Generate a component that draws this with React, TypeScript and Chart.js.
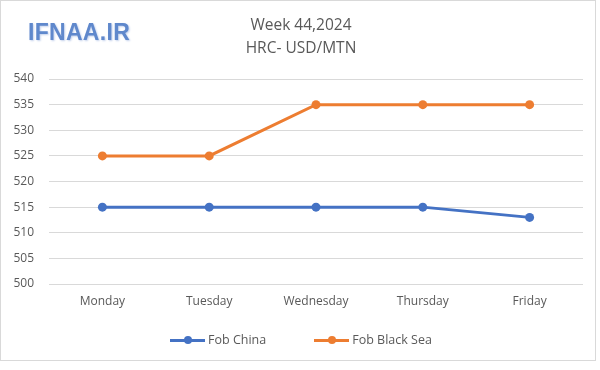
import React, { useEffect, useRef } from "react";
import { Chart, registerables } from "chart.js";

Chart.register(...registerables);

const days = ["Monday", "Tuesday", "Wednesday", "Thursday", "Friday"];
const fobChina = [515, 515, 515, 515, 513];
const fobBlackSea = [525, 525, 535, 535, 535];
const seriesNames = ["Fob China", "Fob Black Sea"];
const seriesColors = ["#4472C4", "#ED7D31"];
const titleLines = ["Week 44,2024", "HRC- USD/MTN"];
const logoText = "IFNAA.IR";
const yMin = 500;
const yMax = 540;
const yStep = 5;

const FONT = "'Open Sans', 'Noto Sans', sans-serif";

export default function App() {
  const ref = useRef<HTMLCanvasElement | null>(null);

  useEffect(() => {
    document.body.style.margin = "0";
    const ctx = ref.current!;
    const chart = new Chart(ctx, {
      type: "line",
      data: {
        labels: days,
        datasets: [fobChina, fobBlackSea].map((d, i) => ({
          label: seriesNames[i],
          data: d,
          borderColor: seriesColors[i],
          backgroundColor: seriesColors[i],
          borderWidth: 3,
          pointRadius: 4.5,
          pointHoverRadius: 4.5,
          pointBorderWidth: 0,
          tension: 0,
        })),
      },
      options: {
        animation: false,
        responsive: false,
        maintainAspectRatio: false,
        layout: { padding: { top: 78, right: 13, bottom: 50, left: 0 } },
        plugins: {
          legend: { display: false },
          title: { display: false },
          tooltip: { enabled: false },
        },
        scales: {
          x: {
            offset: true,
            grid: { display: false, drawTicks: false },
            border: { display: false },
            ticks: {
              color: "#595959",
              font: { family: FONT, size: 12 },
              padding: 10,
              maxRotation: 0,
            },
            afterFit: (s: any) => {
              s.height = 37;
            },
          },
          y: {
            min: yMin,
            max: yMax,
            grid: { color: "#d9d9d9", lineWidth: 1, drawTicks: false },
            border: { display: false },
            ticks: {
              stepSize: yStep,
              color: "#595959",
              font: { family: FONT, size: 12 },
              padding: 15,
            },
            afterFit: (s: any) => {
              s.width = 48;
            },
          },
        },
      },
    });
    return () => chart.destroy();
  }, []);

  return (
    <div
      style={{
        position: "relative",
        width: 596,
        height: 361,
        border: "1px solid #d9d9d9",
        boxSizing: "border-box",
        background: "#fff",
        fontFamily: FONT,
        overflow: "hidden",
      }}
    >
      <canvas
        ref={ref}
        width={595}
        height={370}
        style={{ position: "absolute", left: 0, top: 0 }}
      />
      <div
        style={{
          position: "absolute",
          left: 27,
          top: 18,
          fontFamily: "'Liberation Sans', Arial, sans-serif",
          fontWeight: "bold",
          fontSize: 23,
          color: "#5f88cc",
          textShadow: "1px 1px 2px #c3d1ec",
          letterSpacing: 0.3,
        }}
      >
        {logoText}
      </div>
      <div
        style={{
          position: "absolute",
          left: 0,
          width: 600,
          top: 12,
          textAlign: "center",
          color: "#595959",
          fontSize: 15.5,
          lineHeight: "23px",
        }}
      >
        {titleLines.map((t, i) => (
          <div key={i}>{t}</div>
        ))}
      </div>
      <div
        style={{
          position: "absolute",
          left: 0,
          width: 600,
          top: 329,
          display: "flex",
          justifyContent: "center",
          gap: 48,
          color: "#595959",
          fontSize: 12.5,
          lineHeight: "20px",
        }}
      >
        {seriesNames.map((n, i) => (
          <div key={i} style={{ display: "flex", alignItems: "center" }}>
            <div style={{ position: "relative", width: 35, height: 10, marginRight: 3 }}>
              <div
                style={{
                  position: "absolute",
                  left: 0,
                  right: 0,
                  top: 3.5,
                  height: 3,
                  background: seriesColors[i],
                }}
              />
              <div
                style={{
                  position: "absolute",
                  left: 13.5,
                  top: 1,
                  width: 8,
                  height: 8,
                  borderRadius: 4,
                  background: seriesColors[i],
                }}
              />
            </div>
            <span>{n}</span>
          </div>
        ))}
      </div>
    </div>
  );
}
